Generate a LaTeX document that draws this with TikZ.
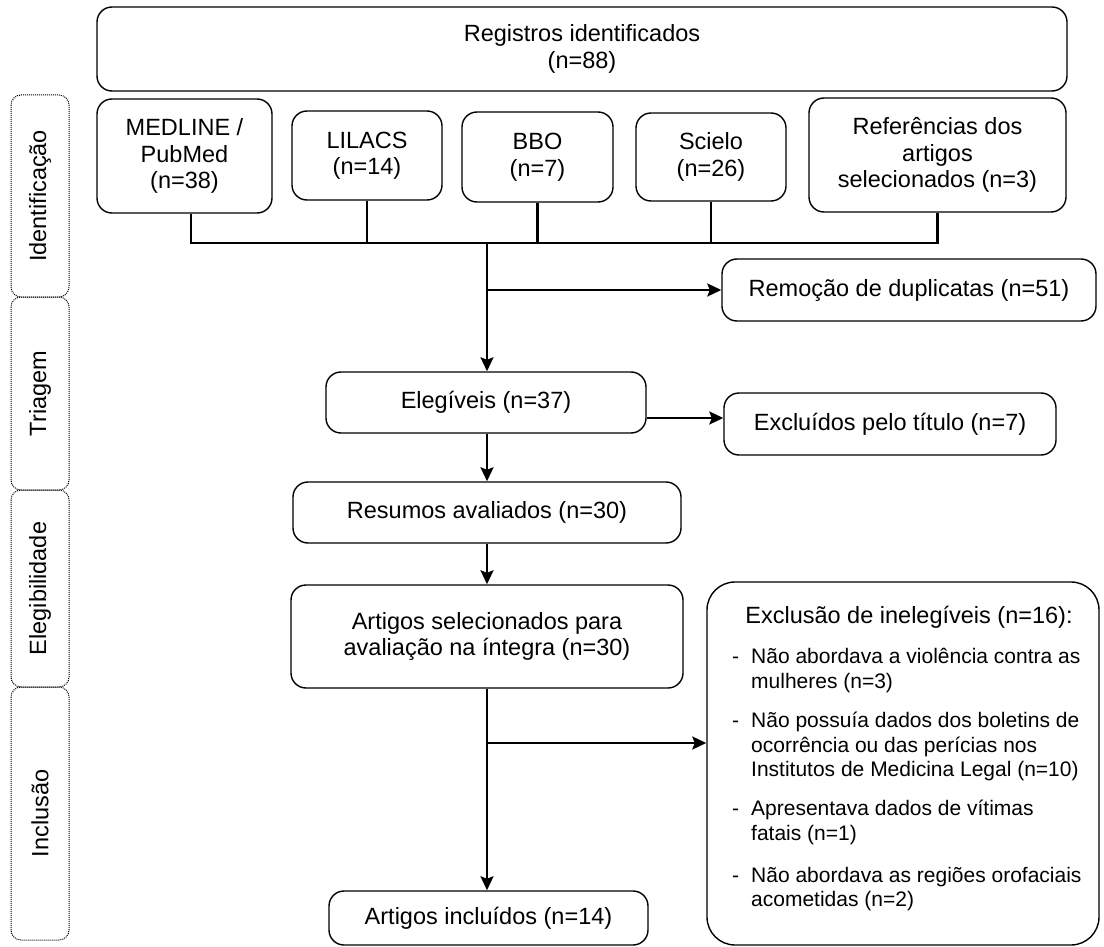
\documentclass[tikz,border=0pt]{standalone}
\usepackage{fontspec}
\setmainfont{Liberation Sans}
\usetikzlibrary{arrows.meta,calc}
\begin{document}
\begin{tikzpicture}[x=1pt,y=-1pt,
  box/.style={draw, line width=1.4pt, rounded corners=15pt, align=center, inner sep=0pt,
    font=\fontsize{23.5}{26.5}\selectfont},
  side/.style={draw, line width=1pt, dash pattern=on 1pt off 1pt, rounded corners=10pt,
    rotate=90, inner sep=0pt, font=\fontsize{23.5}{26.5}\selectfont},
  big/.style={font=\fontsize{23.5}{26.5}\selectfont, inner sep=0pt},
  small/.style={font=\fontsize{21}{24.8}\selectfont, inner sep=0pt, anchor=base west},
  link/.style={line width=2.2pt},
  arr/.style={line width=2.2pt, -{Stealth[length=14pt,width=13pt,inset=2.5pt]}}]
\useasboundingbox (0,0) rectangle (1104,947);

% side phase labels
\node[side, minimum width=202, minimum height=58] (ph1) at (40,196) {Identificação};
\node[side, minimum width=193, minimum height=58] (ph2) at (40,393.5) {Triagem};
\node[side, minimum width=197, minimum height=58] (ph3) at (40,588.5) {Elegibilidade};
\node[side, minimum width=253, minimum height=58] (ph4) at (40,813.5) {Inclusão};

% boxes
\node[box, minimum width=970, minimum height=84] (reg) at (582,49) {Registros identificados\\(n=88)};
\node[box, minimum width=175, minimum height=114] (med) at (184.5,156) {MEDLINE /\\PubMed\\(n=38)};
\node[box, minimum width=150, minimum height=89] (lil) at (367,155.5) {LILACS\\(n=14)};
\node[box, minimum width=151, minimum height=90] (bbo) at (537.5,157) {BBO\\(n=7)};
\node[box, minimum width=150, minimum height=88] (sci) at (711,157) {Scielo\\(n=26)};
\node[box, minimum width=257, minimum height=114] (ref) at (937.5,155) {Referências dos\\artigos\\selecionados (n=3)};
\node[box, minimum width=374, minimum height=62] (rem) at (909,290) {Remoção de duplicatas (n=51)};
\node[box, minimum width=320, minimum height=61] (eli) at (486,402.5) {Elegíveis (n=37)};
\node[box, minimum width=332, minimum height=62] (tit) at (890,424) {Excluídos pelo título (n=7)};
\node[box, minimum width=388, minimum height=61] (res) at (487,512.5) {Resumos avaliados (n=30)};
\node[box, minimum width=392, minimum height=103] (sel) at (487,636.5) {Artigos selecionados para\\avaliação na íntegra (n=30)};
\node[box, minimum width=319, minimum height=54] (inc) at (488.5,918) {Artigos incluídos (n=14)};
\node[box, rounded corners=28pt, minimum width=392, minimum height=363] (ine) at (903,763.5) {};

% exclusion texts
\node[big, anchor=base] (inet) at (909,623) {Exclusão de inelegíveis (n=16):};
\node[small] (d1) at (732,663) {-};
\node[small] (l1a) at (751,663) {Não abordava a violência contra as};
\node[small] (l1b) at (751,688) {mulheres (n=3)};
\node[small] (d2) at (732,727) {-};
\node[small] (l2a) at (751,727) {Não possuía dados dos boletins de};
\node[small] (l2b) at (751,752) {ocorrência ou das perícias nos};
\node[small] (l2c) at (751,776) {Institutos de Medicina Legal (n=10)};
\node[small] (d3) at (732,815) {-};
\node[small] (l3a) at (751,815) {Apresentava dados de vítimas};
\node[small] (l3b) at (751,840) {fatais (n=1)};
\node[small] (d4) at (732,882) {-};
\node[small] (l4a) at (751,882) {Não abordava as regiões orofaciais};
\node[small] (l4b) at (751,906) {acometidas (n=2)};

% connectors
\coordinate (bus) at (487,243);
\draw[link] ([xshift=6.5pt]med.south) -- ([xshift=6.5pt]med.south |- bus) -- (ref.south |- bus) -- (ref.south);
\draw[link] (lil.south) -- (lil.south |- bus);
\draw[link] (bbo.south) -- (bbo.south |- bus);
\draw[link] (sci.south) -- (sci.south |- bus);
\draw[arr] (bus) -- (bus |- eli.north);
\coordinate (brem) at (487,290);
\draw[arr] (brem) -- (rem.west);
\draw[arr] ([yshift=-15.5pt]eli.east) -- ([yshift=-15.5pt]eli.east -| tit.west);
\draw[arr] (eli.south -| bus) -- (res.north -| bus);
\draw[arr] (res.south -| bus) -- (sel.north -| bus);
\draw[arr] (sel.south -| bus) -- (inc.north -| bus);
\coordinate (bine) at (487,743);
\draw[arr] (bine) -- (bine -| ine.west);
\end{tikzpicture}
\end{document}
